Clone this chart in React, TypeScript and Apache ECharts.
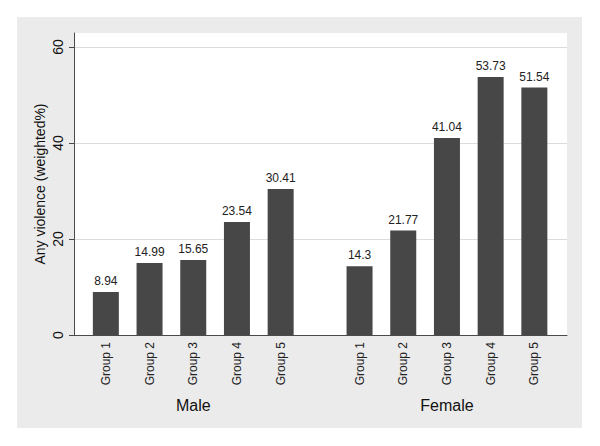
import React, { useEffect, useRef } from "react";
import * as echarts from "echarts";

const groups = ["Group 1", "Group 2", "Group 3", "Group 4", "Group 5"];
const maleValues = [8.94, 14.99, 15.65, 23.54, 30.41];
const femaleValues = [14.3, 21.77, 41.04, 53.73, 51.54];
const panelNames = ["Male", "Female"];
const yTicks = { min: 0, max: 60, interval: 20 };

const FONT = "'Liberation Sans', Arial, Helvetica, sans-serif";
const BAR = "#474747";
const AXIS = "#4a4a4a";

export default function App() {
  const ref = useRef<HTMLDivElement>(null);
  useEffect(() => {
    if (!ref.current) return;
    const chart = echarts.init(ref.current, undefined, { renderer: "svg" });
    const hiddenValue = (gridIndex: number) => ({
      type: "value" as const,
      gridIndex,
      show: false,
      min: yTicks.min,
      max: yTicks.max,
    });
    const catAxis = (gridIndex: number, name: string) => ({
      type: "category" as const,
      gridIndex,
      data: groups,
      name,
      nameLocation: "middle" as const,
      nameGap: 62,
      nameTextStyle: { fontSize: 16, color: "#111", fontFamily: FONT },
      axisLine: { show: false },
      axisTick: { show: false },
      axisLabel: {
        rotate: 90,
        fontSize: 12,
        color: "#222",
        margin: 7,
        fontFamily: FONT,
      },
      splitLine: { show: false },
    });
    const barSeries = (idx: number, data: number[]) => ({
      type: "bar" as const,
      xAxisIndex: idx,
      yAxisIndex: idx,
      data,
      barWidth: 26,
      itemStyle: { color: BAR },
      label: {
        show: true,
        position: "top" as const,
        distance: 5,
        fontSize: 12,
        color: "#222",
        fontFamily: FONT,
      },
    });
    chart.setOption({
      animation: false,
      backgroundColor: "#ffffff",
      textStyle: { fontFamily: FONT },
      graphic: [
        {
          type: "rect",
          z: -10,
          silent: true,
          shape: { x: 17, y: 17, width: 565, height: 411 },
          style: { fill: "#ebebeb" },
        },
      ],
      grid: [
        { left: 74, right: 33, top: 33, bottom: 111, show: true, backgroundColor: "#ffffff", borderWidth: 0 },
        { left: 74, right: 33, top: 47, bottom: 111 },
        { left: 84, width: 218.5, top: 47, bottom: 111 },
        { left: 337.7, width: 218.5, top: 47, bottom: 111 },
      ],
      xAxis: [
        {
          type: "value",
          gridIndex: 0,
          min: 0,
          max: 1,
          axisLine: { show: true, lineStyle: { color: AXIS, width: 1 } },
          axisTick: { show: false },
          axisLabel: { show: false },
          splitLine: { show: false },
        },
        { type: "value", gridIndex: 1, show: false, min: 0, max: 1 },
        catAxis(2, panelNames[0]),
        catAxis(3, panelNames[1]),
      ],
      yAxis: [
        {
          type: "value",
          gridIndex: 0,
          min: 0,
          max: 1,
          name: "Any violence (weighted%)",
          nameLocation: "middle",
          nameGap: 27,
          nameTextStyle: { fontSize: 14, color: "#111", fontFamily: FONT },
          axisLine: { show: true, lineStyle: { color: AXIS, width: 1 } },
          axisTick: { show: false },
          axisLabel: { show: false },
          splitLine: { show: false },
        },
        {
          type: "value",
          gridIndex: 1,
          min: yTicks.min,
          max: yTicks.max,
          interval: yTicks.interval,
          axisLine: { show: false },
          axisTick: { show: true, length: 5, lineStyle: { color: AXIS } },
          axisLabel: { rotate: 90, fontSize: 14, color: "#111", margin: 9, fontFamily: FONT },
          splitLine: { show: true, lineStyle: { color: "#dcdcdc", width: 1 } },
        },
        hiddenValue(2),
        hiddenValue(3),
      ],
      series: [barSeries(2, maleValues), barSeries(3, femaleValues)],
    });
    return () => chart.dispose();
  }, []);
  return (
    <div
      ref={ref}
      style={{ position: "absolute", left: 0, top: 0, width: 600, height: 446 }}
    />
  );
}
